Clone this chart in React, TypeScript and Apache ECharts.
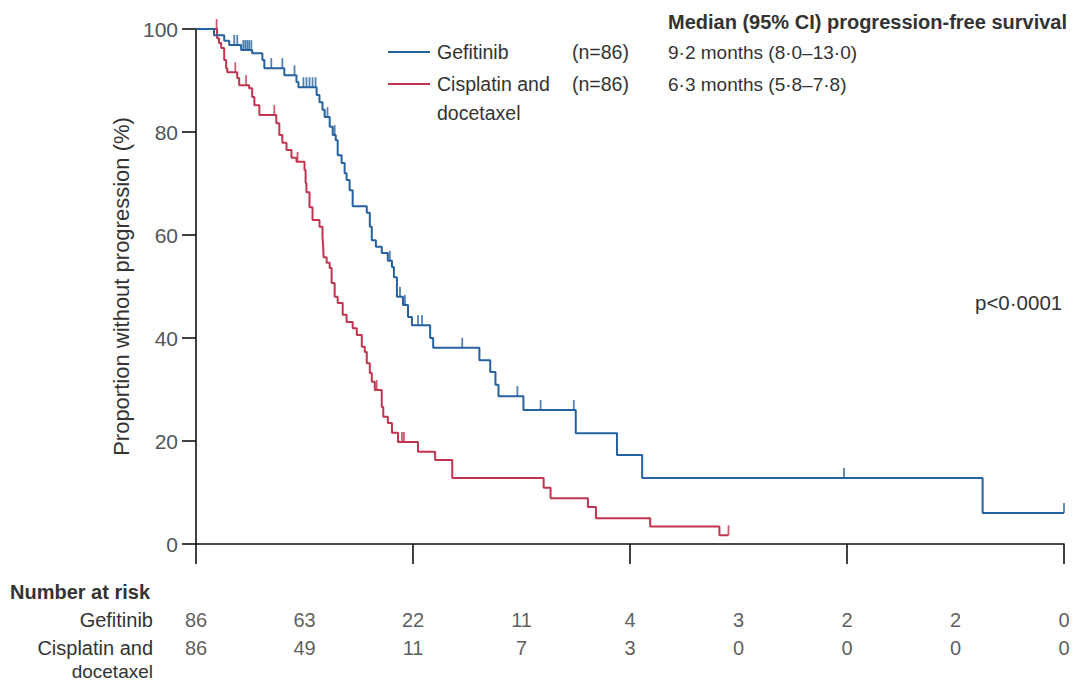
import React, { useEffect, useRef } from "react";
import * as echarts from "echarts";

// Kaplan–Meier events: [month, % without progression after the drop]
const gefitinibEvents: [number, number][] = [
  [0.83, 98.8], [1.3, 97.7], [1.53, 96.9], [2.08, 95.9], [2.59, 95.3], [3.06, 94.0],
  [3.15, 92.4], [4.07, 91.0], [4.63, 89.7], [4.72, 88.7], [5.56, 87.2], [5.69, 85.8],
  [5.83, 84.3], [5.93, 82.9], [6.16, 81.0], [6.3, 79.4], [6.44, 78.4], [6.53, 75.5],
  [6.71, 74.0], [6.85, 72.0], [6.94, 70.7], [7.08, 68.7], [7.22, 65.6], [7.87, 64.3],
  [8.01, 61.6], [8.1, 59.0], [8.29, 57.7], [8.56, 56.5], [8.84, 55.0], [9.03, 53.8],
  [9.12, 51.8], [9.26, 48.0], [9.54, 46.4], [9.77, 44.1], [9.95, 42.5], [10.79, 40.0],
  [10.93, 38.1], [13.06, 35.7], [13.56, 33.4], [13.8, 30.9], [13.94, 28.7], [15.09, 26.0],
  [17.5, 21.5], [19.4, 17.3], [20.56, 12.8], [36.25, 6.0],
];
const gefitinibEnd = 40;
const gefitinibCensored = [
  1.76, 1.9, 2.18, 2.27, 2.36, 2.45, 2.55, 3.47, 3.98, 4.54, 4.95, 5.09, 5.23, 5.37, 5.51,
  6.06, 6.39, 8.93, 9.4, 9.63, 10.23, 10.42, 12.27, 14.81, 15.88, 17.41, 29.86, 40,
];

const cisplatinEvents: [number, number][] = [
  [0.97, 98.2], [1.06, 97.3], [1.16, 96.3], [1.3, 94.0], [1.39, 92.4], [1.44, 91.6],
  [1.9, 90.5], [1.99, 89.1], [2.45, 88.5], [2.59, 86.8], [2.69, 85.2], [2.92, 83.3],
  [3.7, 81.7], [3.84, 79.4], [3.98, 77.9], [4.17, 76.5], [4.4, 75.0], [4.63, 74.2],
  [5.0, 72.6], [5.05, 70.1], [5.09, 68.3], [5.23, 65.4], [5.37, 62.9], [5.69, 61.6],
  [5.83, 59.6], [5.86, 57.7], [5.88, 55.7], [6.02, 54.6], [6.16, 53.6], [6.25, 50.7],
  [6.39, 48.0], [6.53, 46.8], [6.76, 44.5], [6.94, 43.1], [7.22, 41.9], [7.41, 40.6],
  [7.64, 38.3], [7.78, 37.3], [7.87, 35.1], [8.01, 33.2], [8.1, 31.5], [8.24, 29.9],
  [8.56, 26.6], [8.63, 24.7], [8.84, 23.5], [9.03, 21.6], [9.31, 19.8], [10.23, 17.9],
  [11.02, 16.3], [11.81, 12.8], [16.02, 10.9], [16.34, 8.9], [18.06, 7.2], [18.43, 5.0],
  [20.93, 3.4], [24.12, 1.7],
];
const cisplatinEnd = 24.54;
const cisplatinCensored = [0.95, 1.81, 2.31, 3.61, 4.68, 8.33, 9.49, 9.58, 24.54];

const riskMonths = [0, 5, 10, 15, 20, 25, 30, 35, 40];
const gefitinibAtRisk = [86, 63, 22, 11, 4, 3, 2, 2, 0];
const cisplatinAtRisk = [86, 49, 11, 7, 3, 0, 0, 0, 0];

const xTicks = [0, 10, 20, 30, 40];
const yTicks = [0, 20, 40, 60, 80, 100];

const BLUE = "#25629f";
const RED = "#c0344e";
const FONT = '"Liberation Sans", Arial, sans-serif';

function stepLine(events: [number, number][], end: number): number[][] {
  const pts: number[][] = [[0, 100]];
  let cur = 100;
  for (const [t, s] of events) {
    pts.push([t, cur]);
    pts.push([t, s]);
    cur = s;
  }
  pts.push([end, cur]);
  return pts;
}

function survivalAt(events: [number, number][], t: number): number {
  let s = 100;
  for (const [et, es] of events) if (et <= t) s = es;
  return s;
}

export default function App() {
  const ref = useRef<HTMLDivElement>(null);
  useEffect(() => {
    document.body.style.margin = "0";
    if (!ref.current) return;
    const chart = echarts.init(ref.current, undefined, { renderer: "svg" });

    const txt = (text: string, x: number, y: number, opts: any = {}) => ({
      type: "text",
      x,
      y,
      style: {
        text,
        fill: opts.fill || "#333",
        fontSize: opts.size || 20,
        fontWeight: opts.bold ? "bold" : "normal",
        fontFamily: FONT,
        align: opts.align || "left",
        verticalAlign: "middle",
      },
    });

    const riskLabel = {
      show: true,
      position: "inside",
      formatter: (p: any) => String(p.value[2]),
      fontSize: 20,
      color: "#333",
      fontFamily: FONT,
    };

    chart.setOption({
      animation: false,
      grid: [
        { left: 196, right: 10, top: 29, bottom: 141 },
        { left: 196, right: 10, top: 606, height: 56 },
      ],
      xAxis: [
        {
          type: "value",
          min: xTicks[0],
          max: xTicks[xTicks.length - 1],
          interval: 10,
          axisLine: { lineStyle: { color: "#111", width: 1.6 } },
          axisTick: { show: true, length: 20, lineStyle: { color: "#111", width: 1.6 } },
          axisLabel: { show: false },
          splitLine: { show: false },
        },
        { type: "value", gridIndex: 1, min: 0, max: 40, show: false },
      ],
      yAxis: [
        {
          type: "value",
          min: yTicks[0],
          max: yTicks[yTicks.length - 1],
          interval: 20,
          axisLine: { show: true, lineStyle: { color: "#111", width: 1.6 } },
          axisTick: { show: true, length: 14, lineStyle: { color: "#111", width: 1.6 } },
          axisLabel: { fontSize: 21, color: "#555", margin: 18, fontFamily: FONT },
          splitLine: { show: false },
          name: "Proportion without progression (%)",
          nameLocation: "middle",
          nameGap: 64,
          nameTextStyle: { fontSize: 22, color: "#333", fontFamily: FONT },
        },
        {
          type: "category",
          gridIndex: 1,
          data: ["Gefitinib", "Cisplatin and docetaxel"],
          inverse: true,
          show: false,
        },
      ],
      series: [
        {
          name: "Gefitinib",
          type: "line",
          data: stepLine(gefitinibEvents, gefitinibEnd),
          showSymbol: false,
          lineStyle: { color: BLUE, width: 2 },
          z: 3,
        },
        {
          name: "Cisplatin and docetaxel",
          type: "line",
          data: stepLine(cisplatinEvents, cisplatinEnd),
          showSymbol: false,
          lineStyle: { color: RED, width: 2 },
          z: 2,
        },
        {
          type: "scatter",
          data: gefitinibCensored.map((t) => [t, survivalAt(gefitinibEvents, t)]),
          symbol: "rect",
          symbolSize: [1.8, 10],
          symbolOffset: [0, -5],
          itemStyle: { color: BLUE },
          z: 4,
        },
        {
          type: "scatter",
          data: cisplatinCensored.map((t) => [t, survivalAt(cisplatinEvents, t)]),
          symbol: "rect",
          symbolSize: [1.8, 10],
          symbolOffset: [0, -5],
          itemStyle: { color: RED },
          z: 4,
        },
        {
          type: "scatter",
          xAxisIndex: 1,
          yAxisIndex: 1,
          data: riskMonths.map((m, i) => [m, 0, gefitinibAtRisk[i]]),
          symbolSize: 1,
          itemStyle: { color: "rgba(0,0,0,0)" },
          label: riskLabel,
        },
        {
          type: "scatter",
          xAxisIndex: 1,
          yAxisIndex: 1,
          data: riskMonths.map((m, i) => [m, 1, cisplatinAtRisk[i]]),
          symbolSize: 1,
          itemStyle: { color: "rgba(0,0,0,0)" },
          label: riskLabel,
        },
      ],
      graphic: [
        { type: "line", shape: { x1: 388, y1: 52, x2: 430, y2: 52 }, style: { stroke: BLUE, lineWidth: 2 } },
        { type: "line", shape: { x1: 388, y1: 84, x2: 430, y2: 84 }, style: { stroke: RED, lineWidth: 2 } },
        txt("Gefitinib", 437, 52, { size: 19.5 }),
        txt("Cisplatin and", 437, 84, { size: 19.5 }),
        txt("docetaxel", 437, 113, { size: 19.5 }),
        txt("(n=86)", 572, 52, { size: 19.5 }),
        txt("(n=86)", 572, 84, { size: 19.5 }),
        txt("Median (95% CI) progression-free survival", 668, 22, { bold: true }),
        txt("9·2 months (8·0–13·0)", 668, 52, { size: 19 }),
        txt("6·3 months (5·8–7·8)", 668, 84, { size: 19 }),
        txt("p<0·0001", 975, 302, { size: 20.5 }),
        txt("Number at risk", 10, 592, { bold: true }),
        txt("Gefitinib", 153, 620, { align: "right" }),
        txt("Cisplatin and", 153, 648, { align: "right" }),
        txt("docetaxel", 153, 671, { align: "right", size: 19 }),
      ],
    });
    return () => chart.dispose();
  }, []);
  return <div ref={ref} style={{ width: 1074, height: 685 }} />;
}
